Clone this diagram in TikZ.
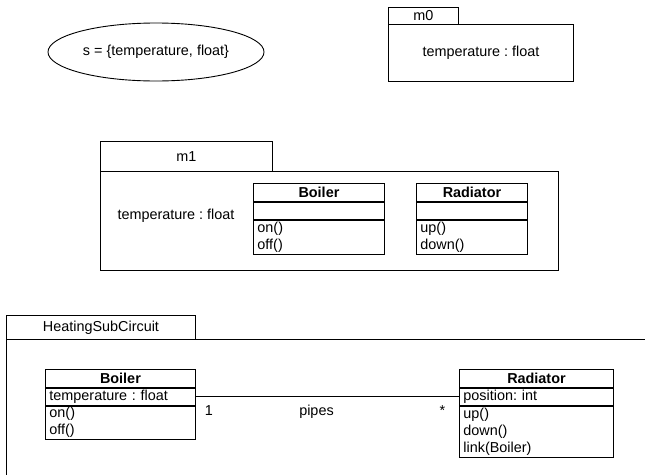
\documentclass[tikz,border=0pt]{standalone}
\usepackage{fontspec}
\setmainfont{Liberation Sans}
\usepackage{tikz}
\usetikzlibrary{positioning,shapes.geometric}

\begin{document}
\frenchspacing
\begin{tikzpicture}
[x=1pt, y=-1pt, line width=0.9pt, font=\fontsize{14.4}{17}\selectfont,
 pkg/.style={draw, inner sep=0pt, anchor=north west},
 cls/.style={draw, inner xsep=4pt, inner ysep=0pt, align=left}]
\useasboundingbox (0,0) rectangle (645,474);
\node[draw, ellipse, minimum width=202pt, minimum height=58pt] (s) at (156,52) {s = \{temperature, float\}};
\node[pkg, minimum width=70pt, minimum height=17pt] (m0tab) at (388,7) {m0};
\node[pkg, minimum width=185pt, minimum height=57pt] (m0) at (388,24) {temperature : float};
\node[pkg, minimum width=172pt, minimum height=30pt] (m1tab) at (100,141) {m1};
\node[pkg, minimum width=458pt, minimum height=99pt] (m1) at (100,171) {};
\node (m1attr) at (176,216) {temperature : float};
\node[cls, anchor=north west, text width=123pt, minimum height=18pt, align=center] (b1head) at (253,183) {\textbf{Boiler}};
\node[cls, text width=123pt, minimum height=17pt, below=0pt of b1head] (b1attr) {};
\node[cls, text width=123pt, minimum height=34pt, below=0pt of b1attr] (b1ops) {on()\\off()};
\node[cls, anchor=north west, text width=103pt, minimum height=18pt, align=center] (r1head) at (416,183) {\textbf{Radiator}};
\node[cls, text width=103pt, minimum height=17pt, below=0pt of r1head] (r1attr) {};
\node[cls, text width=103pt, minimum height=34pt, below=0pt of r1attr] (r1ops) {up()\\down()};
\node[pkg, minimum width=189pt, minimum height=24pt] (hsctab) at (6,315) {HeatingSubCircuit};
\draw (hsctab.south west) -- ++(645,0); \draw (hsctab.south west) -- ++(0,140);
\node[cls, anchor=north west, text width=142pt, minimum height=18pt, align=center] (b2head) at (45,369) {\textbf{Boiler}};
\node[cls, text width=142pt, minimum height=17pt, below=0pt of b2head] (b2attr) {temperature : float};
\node[cls, text width=142pt, minimum height=33pt, below=0pt of b2attr] (b2ops) {on()\\off()};
\node[cls, anchor=north west, text width=146pt, minimum height=18pt, align=center] (r2head) at (459,369) {\textbf{Radiator}};
\node[cls, text width=146pt, minimum height=17pt, below=0pt of r2head] (r2attr) {position: int};
\node[cls, text width=146pt, minimum height=51pt, below=0pt of r2attr] (r2ops) {up()\\down()\\link(Boiler)};
\draw (b2attr.east) -- (r2attr.west);
\node[anchor=base] (one) at (209,415) {1}; \node[anchor=base] (pipes) at (316.5,415) {pipes}; \node[anchor=base] (many) at (442.5,415) {*};
\end{tikzpicture}
\end{document}
